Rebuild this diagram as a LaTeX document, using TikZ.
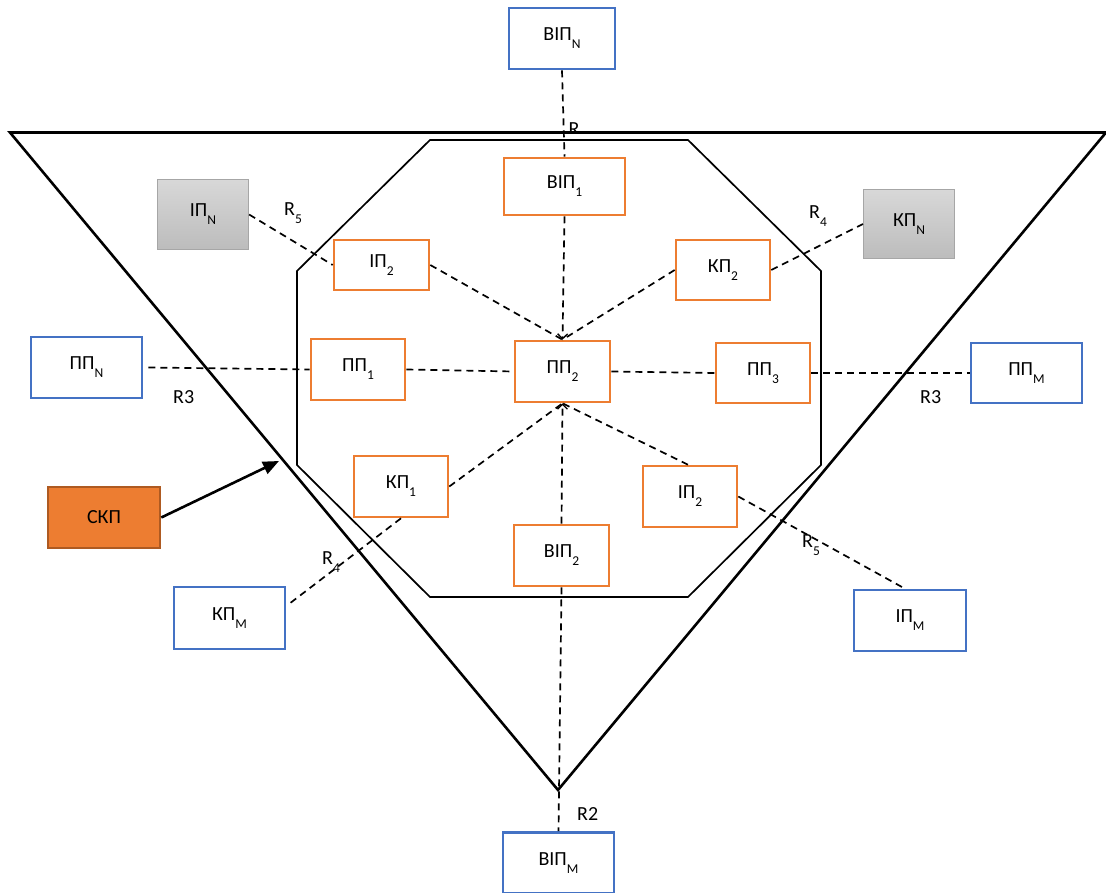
\documentclass[tikz,border=0pt]{standalone}
\usepackage{fontspec}
\setmainfont{Carlito}
\usetikzlibrary{arrows.meta,calc}
\definecolor{accorange}{HTML}{ED7D31}
\definecolor{accblue}{HTML}{4472C4}
\definecolor{skpedge}{HTML}{AE5A21}
\definecolor{greyedge}{HTML}{A6A6A6}
\definecolor{greytop}{HTML}{D8D8D8}
\definecolor{greybot}{HTML}{BCBCBC}
% lowered index after a unit name
\newcommand\lo[1]{\raisebox{-8pt}{\fontsize{13.5}{14}\selectfont #1}}
\begin{document}
\begin{tikzpicture}[x=1pt,y=-1pt,
  every node/.style={font=\fontsize{20}{23}\selectfont},
  unitbox/.style={draw, line width=2.6pt, inner sep=0pt, fill=white},
  obox/.style={unitbox, draw=accorange},
  bbox/.style={unitbox, draw=accblue},
  gbox/.style={unitbox, draw=greyedge, line width=1.2pt, top color=greytop, bottom color=greybot},
  sbox/.style={unitbox, draw=skpedge, fill=accorange},
  link/.style={black, line width=1.7pt, dash pattern=on 7pt off 5pt},
  inarrow/.style={link, -{Straight Barb[length=5pt,width=10pt,line width=1.3pt]}},
  lbl/.style={inner sep=0pt}
]
\useasboundingbox (0,0) rectangle (1106,893);

% outer triangle and inner octagon
\draw[line width=2.6pt, line join=miter] (10,132.5) -- (1106,132.5) -- (558,790) -- cycle;
\draw[line width=1.7pt] (430,140) -- (688,140) -- (821,271) -- (821,465) -- (688,597)
  -- (430,597) -- (297,465) -- (297,271) -- cycle;

% clipped label at the top edge
\begin{scope}
  \clip (540,100) rectangle (620,130.5);
  \node[lbl, anchor=base] (rtop) at (574,136) {R};
\end{scope}

% units inside the octagon
\node[obox, minimum width=121, minimum height=57] (vip1) at (564.5,186.5) {ВІП\lo{1}};
\node[obox, minimum width=95, minimum height=50] (ip2a) at (381.5,265) {ІП\lo{2}};
\node[obox, minimum width=94, minimum height=60] (kp2) at (723,270) {КП\lo{2}};
\node[obox, minimum width=94, minimum height=61] (pp1) at (358,369.5) {ПП\lo{1}};
\node[obox, minimum width=95, minimum height=61] (pp2) at (562.5,371.5) {ПП\lo{2}};
\node[obox, minimum width=94, minimum height=60] (pp3) at (763,373) {ПП\lo{3}};
\node[obox, minimum width=94, minimum height=61] (kp1) at (401,486.5) {КП\lo{1}};
\node[obox, minimum width=94, minimum height=61] (ip2b) at (690,496.5) {ІП\lo{2}};
\node[obox, minimum width=95, minimum height=61] (vip2) at (561.5,555.5) {ВІП\lo{2}};

% external units
\node[bbox, minimum width=106, minimum height=61] (vipn) at (562,38.5) {ВІП\lo{N}};
\node[gbox, minimum width=91, minimum height=70] (ipn) at (203,214.5) {ІП\lo{N}};
\node[gbox, minimum width=91, minimum height=69] (kpn) at (909,224) {КП\lo{N}};
\node[bbox, minimum width=111, minimum height=61] (ppn) at (86.5,367.5) {ПП\lo{N}};
\node[bbox, minimum width=111, minimum height=60] (ppm) at (1026.5,373) {ПП\lo{M}};
\node[sbox, minimum width=112, minimum height=61] (skp) at (104,517.5) {СКП};
\node[bbox, minimum width=111, minimum height=62] (kpm) at (229.5,618) {КП\lo{M}};
\node[bbox, minimum width=112, minimum height=61] (ipm) at (910,620.5) {ІП\lo{M}};
\node[bbox, minimum width=111, minimum height=61] (vipm) at (558.5,863) {ВІП\lo{M}};

% links
\draw[link] (vipn.south) -- (vip1.north);
\draw[inarrow] (vip1.south) -- (pp2.north);
\draw[link] (ip2a.east) -- (pp2.north);
\draw[link] (kp2.west) -- (pp2.north);
\draw[link] (ipn.east) -- (ip2a.west);
\draw[link] (kp2.east) -- (kpn.west);
\draw[link] ([xshift=5pt]ppn.east) -- (pp1.west);
\draw[link] (pp1.east) -- (pp2.west);
\draw[link] (pp2.east) -- (pp3.west);
\draw[link] (pp3.east) -- (ppm.west);
\draw[inarrow] (vip2.north) -- (pp2.south);
\draw[link] (kp1.east) -- (pp2.south);
\draw[link] ([xshift=-2pt]ip2b.north) -- (pp2.south);
\draw[link] (kp1.south) -- ([xshift=4pt,yshift=15pt]kpm.east);
\draw[link] (ip2b.east) -- ([xshift=-5pt]ipm.north);
\draw[link] (vip2.south) -- (vipm.north);

% arrow from the control unit
\coordinate (skptip) at (279,461);
\draw[line width=2.6pt, -{Triangle[length=16pt,width=13pt]}] (skp.east) -- (skptip);

% link labels
\node[lbl, anchor=base west] (r5a) at (284,216) {R\lo{5}};
\node[lbl, anchor=base west] (r4a) at (809,219) {R\lo{4}};
\node[lbl, anchor=base west] (r3a) at (173,403) {R3};
\node[lbl, anchor=base west] (r3b) at (920,403) {R3};
\node[lbl, anchor=base west] (r4b) at (322,564) {R\lo{4}};
\node[lbl, anchor=base west] (r5b) at (802,547) {R\lo{5}};
\node[lbl, anchor=base west] (r2) at (577,820) {R2};
\end{tikzpicture}
\end{document}
